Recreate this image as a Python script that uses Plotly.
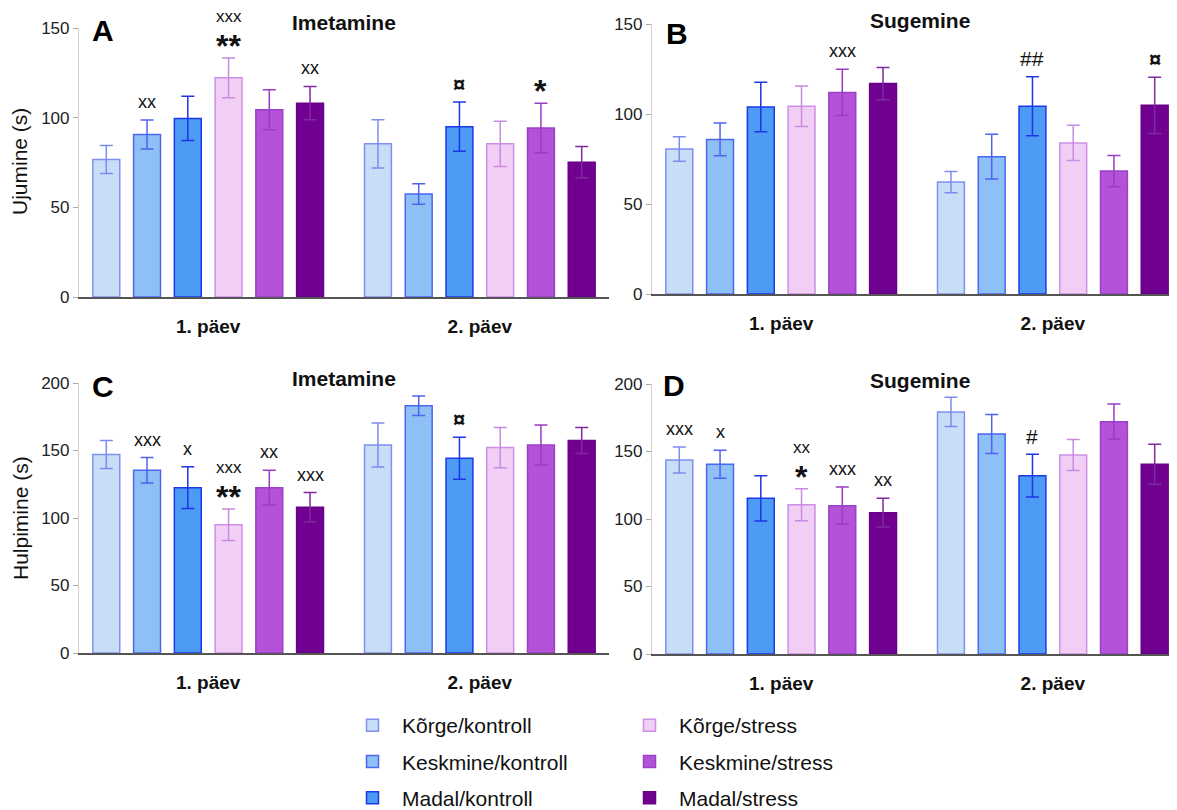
import plotly.graph_objects as go

W, H = 1177, 810
FONT = "Liberation Sans, Arial, sans-serif"

# ---------------- data ----------------
days = ["1. päev", "2. päev"]
series = ["Kõrge/kontroll", "Keskmine/kontroll", "Madal/kontroll",
          "Kõrge/stress", "Keskmine/stress", "Madal/stress"]

A_day1_mean = [76.7, 90.6, 99.6, 122.2, 104.4, 108.1]
A_day1_sem = [7.8, 8.1, 12.4, 11.1, 11.1, 9.3]
A_day2_mean = [85.4, 57.4, 95.0, 85.4, 94.3, 75.2]
A_day2_sem = [13.5, 5.7, 13.7, 12.6, 13.8, 8.7]

B_day1_mean = [80.6, 85.9, 103.9, 104.3, 112.0, 116.9]
B_day1_sem = [6.8, 9.1, 13.7, 11.3, 12.8, 9.0]
B_day2_mean = [62.2, 76.3, 104.3, 83.9, 68.3, 104.8]
B_day2_sem = [5.9, 12.4, 16.4, 9.8, 8.7, 15.6]

C_day1_mean = [147.0, 135.4, 122.5, 95.0, 122.5, 107.9]
C_day1_sem = [10.4, 9.4, 15.4, 11.7, 12.9, 10.9]
C_day2_mean = [154.0, 183.2, 144.3, 152.2, 154.0, 157.4]
C_day2_sem = [16.3, 7.2, 15.6, 14.9, 14.8, 9.7]

D_day1_mean = [143.7, 140.5, 115.3, 110.6, 109.9, 104.7]
D_day1_sem = [9.6, 10.4, 16.8, 11.9, 13.8, 10.6]
D_day2_mean = [179.3, 163.0, 132.1, 147.4, 172.1, 140.5]
D_day2_sem = [10.8, 14.5, 15.8, 11.4, 13.1, 14.8]

# significance marks: (day index, series index, text just above bar, text above that)
A_marks = [(0, 1, "xx", ""), (0, 3, "**", "xxx"), (0, 5, "xx", ""),
           (1, 2, "¤", ""), (1, 4, "*", "")]
B_marks = [(0, 4, "xxx", ""), (1, 2, "##", ""), (1, 5, "¤", "")]
C_marks = [(0, 1, "xxx", ""), (0, 2, "x", ""), (0, 3, "**", "xxx"),
           (0, 4, "xx", ""), (0, 5, "xxx", ""), (1, 2, "¤", "")]
D_marks = [(0, 0, "xxx", ""), (0, 1, "x", ""), (0, 3, "*", "xx"),
           (0, 4, "xxx", ""), (0, 5, "xx", ""), (1, 2, "#", "")]

panel_letters = ["A", "B", "C", "D"]
panel_titles = ["Imetamine", "Sugemine", "Imetamine", "Sugemine"]
y_titles = ["Ujumine (s)", "Hulpimine (s)"]

# ---------------- styles ----------------
fills = ["#c9dff7", "#8fc0f6", "#4e9bf6", "#f2d0f6", "#b553d8", "#6f0090"]
borders = ["#7f8ff2", "#4c66f2", "#1a3ae8", "#cf8fe6", "#9b40c8", "#6a0088"]
errcols = ["#7d8cf0", "#4f63f0", "#1f35e6", "#c98be0", "#9a3cc4", "#7e2aa0"]
dots = ["#a9c2ee", "#74a6e6", "#3f86dc", "#dcaee9", "#a445cc", "#7a1aa0"]

BARGAP = 0.1
BARGROUPGAP = 0.34
NS = len(series)
OFF = 8  # page offset of the figure in the screenshot


def px(x):
    return (x - OFF) / W


def py(y):
    return 1 - (y - OFF) / H


def mark_font(txt, upper):
    if "*" in txt:
        return 32, True, -6
    if "¤" in txt:
        return 22, True, 0
    if "#" in txt:
        return 21, False, 0
    return (17 if upper else 18), False, 0


XR = [-0.4755, 1.4755]
panels = [
    dict(m1=A_day1_mean, s1=A_day1_sem, m2=A_day2_mean, s2=A_day2_sem, marks=A_marks,
         xd=[px(79), px(609)], yd=[py(297), py(28)], yr=[0, 150]),
    dict(m1=B_day1_mean, s1=B_day1_sem, m2=B_day2_mean, s2=B_day2_sem, marks=B_marks,
         xd=[px(652), px(1182)], yd=[py(294), py(24)], yr=[0, 150]),
    dict(m1=C_day1_mean, s1=C_day1_sem, m2=C_day2_mean, s2=C_day2_sem, marks=C_marks,
         xd=[px(79), px(609)], yd=[py(653), py(383)], yr=[0, 200]),
    dict(m1=D_day1_mean, s1=D_day1_sem, m2=D_day2_mean, s2=D_day2_sem, marks=D_marks,
         xd=[px(652), px(1182)], yd=[py(654), py(384)], yr=[0, 200]),
]

fig = go.Figure()
annotations = []

for p, P in enumerate(panels):
    xa = "x" if p == 0 else f"x{p+1}"
    ya = "y" if p == 0 else f"y{p+1}"
    for i in range(NS):
        fig.add_trace(go.Bar(
            x=days, y=[P["m1"][i], P["m2"][i]], name=series[i],
            xaxis=xa, yaxis=ya,
            marker=dict(color=fills[i], line=dict(color=borders[i], width=1.5),
                        pattern=dict(shape=".", size=4, solidity=0.12,
                                     fgcolor=dots[i], fgopacity=0.35)),
            error_y=dict(type="data", array=[P["s1"][i], P["s2"][i]], symmetric=True,
                         color=errcols[i], thickness=1.5, width=6.5),
            legend="legend" if i < 3 else "legend2",
            legendgroup=series[i], showlegend=(p == 0),
            hoverinfo="skip",
        ))
    # significance marks
    pitch = (1 - BARGAP) / NS
    for (d, i, t1, t2) in P["marks"]:
        xpos = d - (1 - BARGAP) / 2 + pitch * (i + 0.5)
        top = (P["m1"] if d == 0 else P["m2"])[i] + (P["s1"] if d == 0 else P["s2"])[i]
        for txt, base, upper in ((t1, 18, False), (t2, 41, True)):
            if not txt:
                continue
            size, bold, adj = mark_font(txt, upper)
            annotations.append(dict(
                x=xpos, y=top, xref=xa, yref=ya, text=f"<b>{txt}</b>" if bold else txt,
                showarrow=False, yanchor="middle", yshift=base + adj,
                font=dict(size=size, color="#111", family=FONT)))
    # axes
    fig.layout[("xaxis" if p == 0 else f"xaxis{p+1}")] = dict(
        domain=P["xd"], anchor=ya, range=XR, type="category",
        showline=True, linecolor="#555555", linewidth=1.5,
        ticks="outside", ticklen=11, tickcolor="rgba(0,0,0,0)",
        tickfont=dict(size=19, color="#111", family=FONT, weight="bold"),
        showgrid=False, zeroline=False, fixedrange=True, automargin=False)
    fig.layout[("yaxis" if p == 0 else f"yaxis{p+1}")] = dict(
        domain=P["yd"], anchor=xa, range=P["yr"], dtick=50,
        showline=True, linecolor="#d0d0d0", linewidth=1.2,
        ticks="outside", ticklen=5, tickcolor="#aaaaaa", tickwidth=1,
        tickfont=dict(size=17, color="#222", family=FONT),
        showgrid=False, zeroline=False, fixedrange=True, automargin=False)

# panel letters, titles, y titles
letter_pos = [(103, 31), (677, 33), (103, 386), (674, 385)]
title_pos = [(344, 23), (920, 20), (344, 378), (920, 380)]
for k in range(4):
    annotations.append(dict(x=px(letter_pos[k][0]), y=py(letter_pos[k][1]), xref="paper", yref="paper",
                            text=f"<b>{panel_letters[k]}</b>", showarrow=False,
                            xanchor="center", yanchor="middle",
                            font=dict(size=30, color="#000", family=FONT)))
    annotations.append(dict(x=px(title_pos[k][0]), y=py(title_pos[k][1]), xref="paper", yref="paper",
                            text=f"<b>{panel_titles[k]}</b>", showarrow=False,
                            xanchor="center", yanchor="middle",
                            font=dict(size=21, color="#111", family=FONT)))
for k, yc in enumerate([162, 518]):
    annotations.append(dict(x=px(20), y=py(yc), xref="paper", yref="paper",
                            text=y_titles[k], showarrow=False, textangle=-90,
                            xanchor="center", yanchor="middle",
                            font=dict(size=21, color="#111", family=FONT)))

legend_common = dict(orientation="v", xanchor="left", yanchor="bottom",
                     font=dict(size=21, color="#111", family=FONT),
                     tracegroupgap=6, itemwidth=49, bgcolor="rgba(0,0,0,0)",
                     itemclick=False, itemdoubleclick=False)

fig.update_layout(
    width=W, height=H, margin=dict(l=0, r=0, t=0, b=0, autoexpand=False),
    paper_bgcolor="white", plot_bgcolor="white",
    barmode="group", bargap=BARGAP, bargroupgap=BARGROUPGAP,
    font=dict(family=FONT),
    annotations=annotations,
    legend=dict(x=px(343), y=0.0, **legend_common),
    legend2=dict(x=px(620), y=0.0, **legend_common),
)

fig.write_html("out.html")
